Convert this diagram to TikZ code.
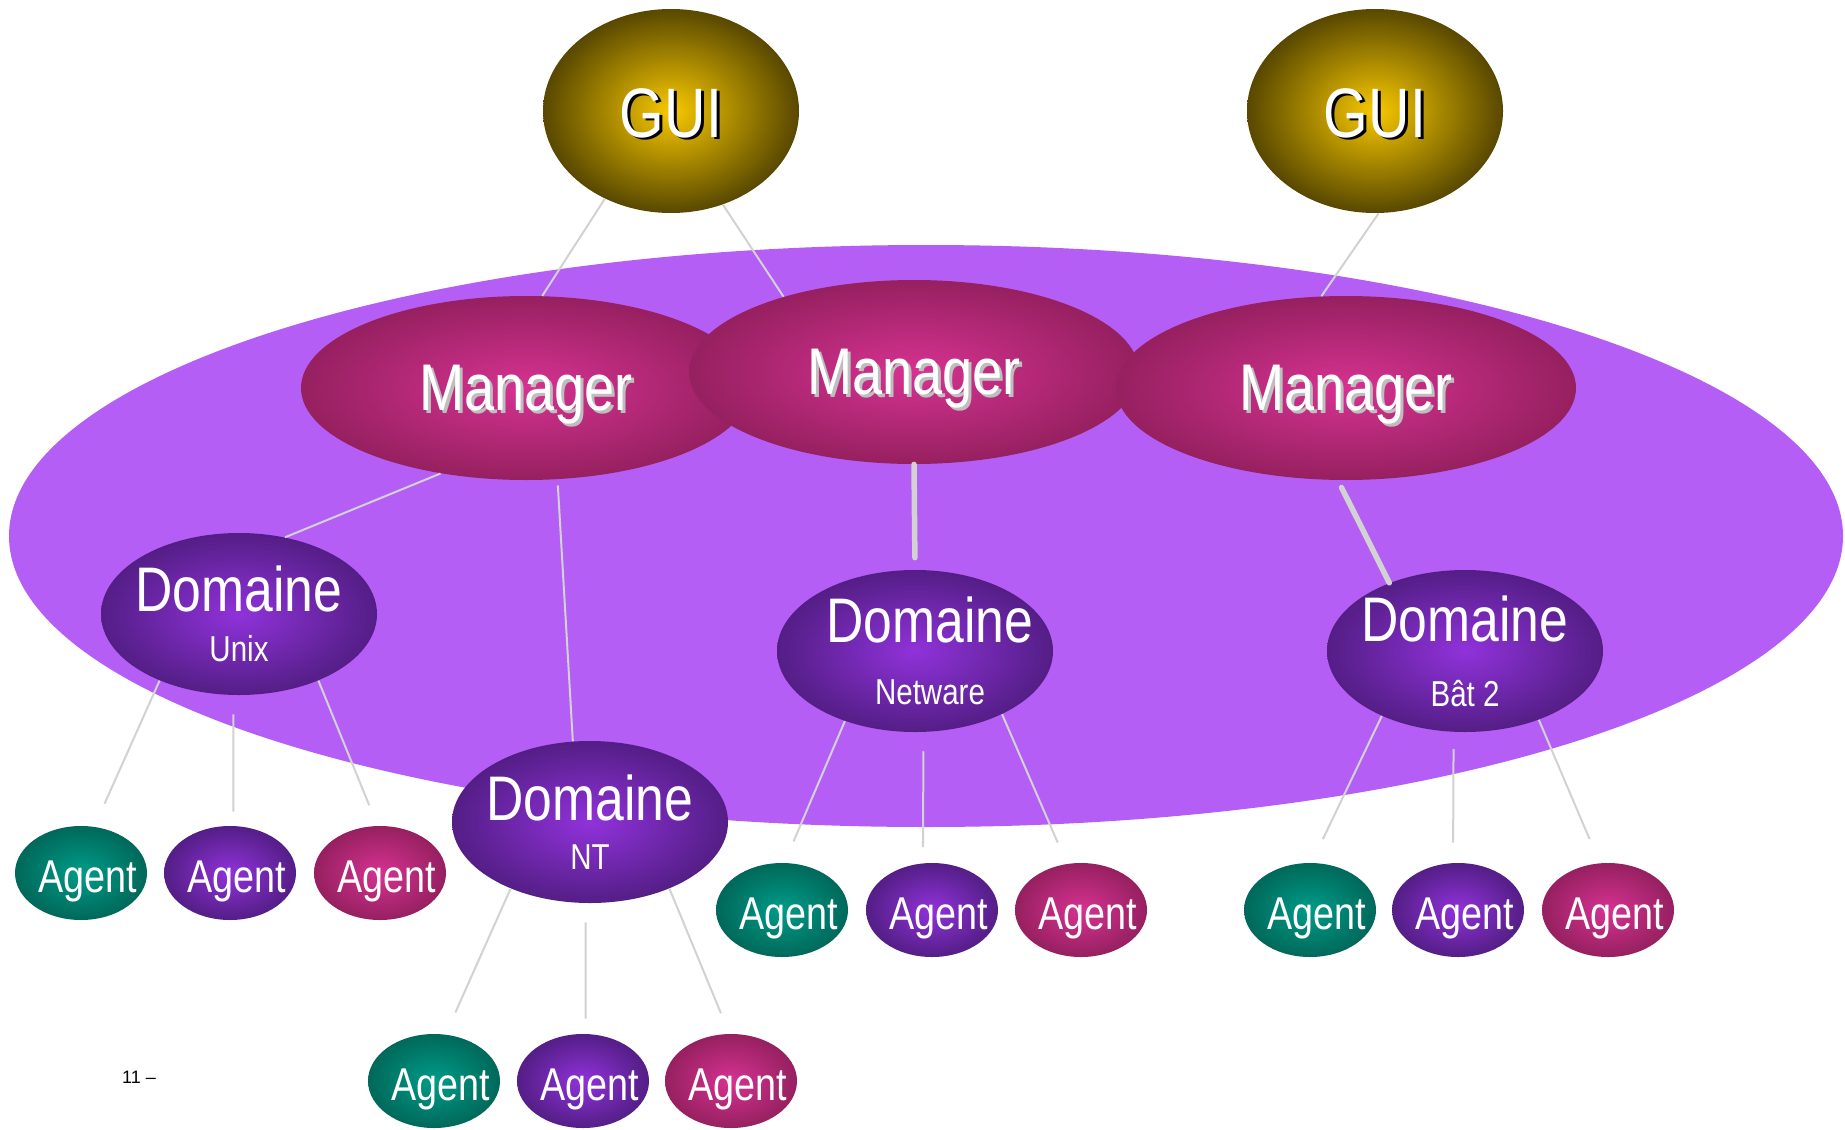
\documentclass[tikz,border=0pt]{standalone}
\usepackage{fontspec}
\setmainfont{Liberation Sans}
\newfontfamily\slimfont{Liberation Sans}[FakeStretch=0.82]
\usepackage{tikz}
\usetikzlibrary{shapes.geometric}
\definecolor{cloudviolet}{RGB}{181,94,245}
\definecolor{guigold}{RGB}{248,200,0}
\definecolor{guidark}{RGB}{88,72,0}
\definecolor{mgrpink}{RGB}{214,50,145}
\definecolor{mgrdark}{RGB}{150,32,96}
\definecolor{mgrshade}{RGB}{190,190,190}
\definecolor{dompurple}{RGB}{144,50,218}
\definecolor{domdark}{RGB}{84,30,134}
\definecolor{agtteal}{RGB}{0,156,136}
\definecolor{agtdark}{RGB}{0,104,90}
\definecolor{wiregray}{RGB}{210,210,210}
\newcommand{\shadowed}[2]{\rlap{\kern1.5pt\raisebox{-1.5pt}{\textcolor{#1}{#2}}}#2}
\newcommand{\domlabel}[3][0pt]{\makebox[0pt]{\kern#1 Domaine}\\[#3]\makebox[0pt]{\kern#1\fontsize{18}{18}\selectfont #2}}
\newcommand{\agenttext}{\makebox[0pt]{\kern7pt Agent}}

\begin{document}
\begin{tikzpicture}[x=0.5pt, y=-0.5pt,
    blob/.style={ellipse, inner sep=0pt, text=white},
    gui/.style={blob, inner color=guigold, outer color=guidark,
        minimum width=128pt, minimum height=102pt,
        font=\slimfont\fontsize{35}{35}\selectfont, text height=26pt, text depth=0pt},
    manager/.style={blob, inner color=mgrpink, outer color=mgrdark,
        minimum width=225pt, minimum height=92pt,
        font=\slimfont\fontsize{33}{33}\selectfont, text height=22pt, text depth=0pt},
    domaine/.style={blob, inner color=dompurple, outer color=domdark,
        minimum width=138pt, minimum height=81pt, align=center,
        font=\slimfont\fontsize{31.5}{31.5}\selectfont},
    agent/.style={blob, minimum width=66pt, minimum height=47pt,
        font=\slimfont\fontsize{23}{23}\selectfont, text height=19pt, text depth=0pt},
    agentteal/.style={agent, inner color=agtteal, outer color=agtdark},
    agentviolet/.style={agent, inner color=dompurple, outer color=domdark},
    agentpink/.style={agent, inner color=mgrpink, outer color=mgrdark},
    wire/.style={draw=wiregray, line width=1pt},
    trunk/.style={draw=wiregray, line width=2.75pt, line cap=round}]
    \fill[white] (0,0) rectangle (1845,1129);
    \useasboundingbox (0,0) rectangle (1845,1129);
    \fill[cloudviolet] (926,536) ellipse [x radius=458.5pt, y radius=145.5pt];

    \node[gui] (g1) at (671,111) {\shadowed{black}{GUI}};
    \node[gui] (g2) at (1375,111) {\shadowed{black}{GUI}};
    \node[manager] (m1) at (526,388) {\shadowed{mgrshade}{Manager}};
    \node[manager] (m2) at (914,372) {\shadowed{mgrshade}{Manager}};
    \node[manager, minimum width=230pt] (m3) at (1346,388) {\shadowed{mgrshade}{Manager}};
    \node[domaine] (du) at (239,614) {\domlabel{Unix}{-6.5pt}};
    \node[domaine] (dnt) at (590,822) {\domlabel{NT}{-7pt}};
    \node[domaine] (dnw) at (915,651) {\domlabel[15pt]{Netware}{-0.5pt}};
    \node[domaine] (db) at (1465,651) {\domlabel{Bât 2}{1pt}};

    \node[agentteal] (ua1) at (81,873) {\agenttext};
    \node[agentviolet] (ua2) at (230,873) {\agenttext};
    \node[agentpink] (ua3) at (380,873) {\agenttext};
    \node[agentteal] (na1) at (434,1081) {\agenttext};
    \node[agentviolet] (na2) at (583,1081) {\agenttext};
    \node[agentpink] (na3) at (731,1081) {\agenttext};
    \node[agentteal] (wa1) at (782,910) {\agenttext};
    \node[agentviolet] (wa2) at (932,910) {\agenttext};
    \node[agentpink] (wa3) at (1081,910) {\agenttext};
    \node[agentteal] (ba1) at (1310,910) {\agenttext};
    \node[agentviolet] (ba2) at (1458,910) {\agenttext};
    \node[agentpink] (ba3) at (1608,910) {\agenttext};
    \node[font=\fontsize{9}{9}\selectfont] (pg) at (139,1077) {11 –};

    \draw[wire] (g1.233) -- (m1.80);
    \draw[wire] (g1.299) -- (m2.150);
    \draw[wire] (g2.272) -- (m3.105);
    \draw[wire] (m1.225) -- (du.59);
    \draw[wire, shorten <=3pt] (m1.289) -- (dnt.102);
    \draw[trunk, shorten >=6pt] (m2.south) -- (dnw.north);
    \draw[trunk, shorten <=4pt] (m3.265) -- (db.138);

    \draw[wire, shorten >=12.5pt] (du.220) -- (ua1.74);
    \draw[wire, shorten <=9.5pt, shorten >=7pt] (du.266) -- (ua2.86);
    \draw[wire, shorten >=11pt] (du.320) -- (ua3.93);
    \draw[wire, shorten >=12pt] (dnt.220) -- (na1.76);
    \draw[wire, shorten <=9.5pt, shorten >=7.5pt] (dnt.267) -- (na2.87);
    \draw[wire, shorten >=11pt] (dnt.320) -- (na3.92);
    \draw[wire, shorten >=11.5pt] (dnw.225) -- (wa1.87);
    \draw[wire, shorten <=9.5pt, shorten >=8pt] (dnw.276) -- (wa2.101);
    \draw[wire, shorten >=11.5pt] (dnw.324) -- (wa3.107);
    \draw[wire, shorten >=13pt] (db.218) -- (ba1.88);
    \draw[wire, shorten <=8.5pt, shorten >=10pt] (db.262) -- (ba2.96);
    \draw[wire, shorten >=13pt] (db.317) -- (ba3.100);
\end{tikzpicture}
\end{document}
